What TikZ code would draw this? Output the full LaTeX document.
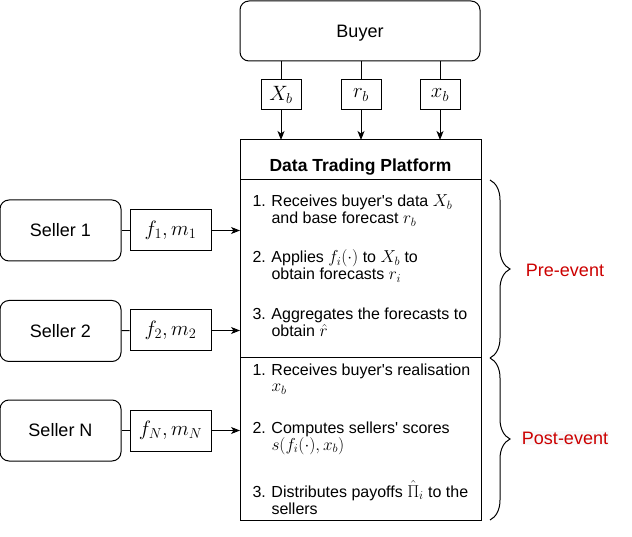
\documentclass[tikz,border=0pt]{standalone}
\usepackage[no-math]{fontspec}
\setmainfont{Liberation Sans}
\usetikzlibrary{arrows.meta,positioning,decorations.pathreplacing}
\definecolor{phasered}{RGB}{204,0,0}
\definecolor{phasebg}{RGB}{248,249,250}
\newcommand{\lbm}[1]{{\fontsize{20.74}{20}\selectfont$#1$}}
\newcommand{\txm}[1]{{\fontsize{17.28}{17}\selectfont$\smash{#1}$}}
\newcommand{\sq}{\textquotesingle}

\begin{document}
\begin{tikzpicture}[x=1pt,y=-1pt,line width=1pt,>={Stealth[length=9pt,width=7pt,inset=2.5pt]},
    font=\fontsize{16}{17}\selectfont,
    party/.style={draw, rounded corners=9pt, minimum width=121pt, minimum height=61pt,
                  inner sep=0pt, font=\fontsize{18}{18}\selectfont},
    tag/.style={draw, minimum width=40pt, minimum height=30pt, inner sep=0pt},
    offer/.style={draw, minimum width=81pt, minimum height=41pt, inner sep=0pt},
    panel/.style={draw, minimum width=241pt, inner sep=0pt, outer sep=0pt},
    item/.style={anchor=base west, inner sep=0pt},
    phase/.style={text=phasered, font=\fontsize{18}{18}\selectfont, inner sep=1pt}]
  \useasboundingbox (0,0) rectangle (632,537);
  % ---- buyer ----
  \node[party, minimum width=240pt, minimum height=60pt] (buyer) at (360,31) {};
  \node[anchor=base, inner sep=0pt, font=\fontsize{18}{18}\selectfont] (buyertxt) at (360,37.5) {Buyer};
  \node[tag] (tXb) at (281,95) {\lbm{X_b}};
  \node[tag] (trb) at (361,95) {\lbm{r_b}};
  \node[tag] (txb) at (440,95) {\lbm{x_b}};
  % ---- platform ----
  \node[panel, minimum height=40pt] (head) at (360.5,160) {};
  \node[anchor=base, inner sep=0pt, font=\fontsize{17.5}{17.5}\selectfont\bfseries] (title) at (360.5,172)
    {Data Trading Platform};
  \node[panel, minimum height=178pt, below=0pt of head] (pre) {};
  \node[panel, minimum height=162pt, below=0pt of pre] (post) {};
  \node[item] (pre1) at (252,207) {\begin{tabular}[t]{@{}p{19pt}@{}l@{}}
    1. & Receives buyer\sq s data \txm{X_b}\\ & and base forecast \txm{r_b}\end{tabular}};
  \node[item] (pre2) at (252,263) {\begin{tabular}[t]{@{}p{19pt}@{}l@{}}
    2. & Applies \txm{f_i(\cdot)} to \txm{X_b} to\\ & obtain forecasts \txm{r_i}\end{tabular}};
  \node[item] (pre3) at (252,320) {\begin{tabular}[t]{@{}p{19pt}@{}l@{}}
    3. & Aggregates the forecasts to\\ & obtain \txm{\hat{r}}\end{tabular}};
  \node[item] (post1) at (252,375) {\begin{tabular}[t]{@{}p{19pt}@{}l@{}}
    1. & Receives buyer\sq s realisation\\ & \txm{x_b}\end{tabular}};
  \node[item] (post2) at (252,433) {\begin{tabular}[t]{@{}p{19pt}@{}l@{}}
    2. & Computes sellers\sq\ scores\\ & \txm{s(f_i(\cdot), x_b)}\end{tabular}};
  \node[item] (post3) at (252,497) {\begin{tabular}[t]{@{}p{19pt}@{}l@{}}
    3. & Distributes payoffs \txm{\hat{\Pi}_i} to the\\ & sellers\end{tabular}};
  % ---- sellers ----
  \node[party] (s1) at (60.5,230.5) {Seller 1};
  \node[party] (s2) at (60.5,331) {Seller 2};
  \node[party] (sN) at (60.5,430.5) {Seller N};
  \node[offer] (o1) at (170.5,230.5) {\lbm{f_1, m_1}};
  \node[offer] (o2) at (170.5,330.5) {\lbm{f_2, m_2}};
  \node[offer] (oN) at (170.5,430.5) {\lbm{f_N, m_N}};
  % ---- phases ----
  \node[phase] (prelbl) at (565,270) {Pre-event};
  \node[phase, fill=phasebg] (postlbl) at (565,438) {Post-event};
  % ---- signals ----
  \foreach \t in {tXb,trb,txb}{
    \draw (buyer.south -| \t) -- (\t);
    \draw[->] (\t) -- (\t |- head.north);
  }
  \foreach \s/\o in {s1/o1,s2/o2}{
    \draw (\s) -- (\o);
    \draw[->] (\o) -- (\o -| pre.west);
  }
  \draw (sN) -- (oN);
  \draw[->] (oN) -- (oN -| post.west);
  \draw[decorate, decoration={brace, amplitude=20pt}] ([xshift=9pt]pre.north east) -- ([xshift=9pt]pre.south east);
  \draw[decorate, decoration={brace, amplitude=20pt}] ([xshift=9pt]post.north east) -- ([xshift=9pt]post.south east);
\end{tikzpicture}
\end{document}
